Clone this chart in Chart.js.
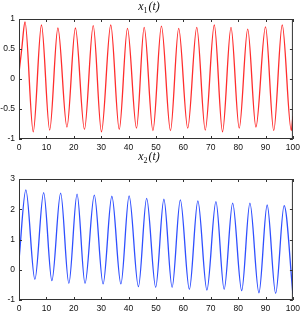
<!DOCTYPE html>
<html>
<head>
<meta charset="utf-8">
<script src="https://cdn.jsdelivr.net/npm/chart.js@4"></script>
<style>
  html, body { margin: 0; padding: 0; background: #fff; }
  .wrap { position: absolute; left: 0; width: 304px; }
  canvas { display: block; }
</style>
</head>
<body>
<div class="wrap" style="top:0"><canvas id="c1" width="304" height="152"></canvas></div>
<div class="wrap" style="top:152px"><canvas id="c2" width="304" height="160"></canvas></div>
<script>
// x1(t): peaks and troughs
const t1 = [0, 1.0, 2.2, 5.2, 8.2, 11.2, 14.2, 17.5, 20.6, 23.9, 27.1, 30.1, 33.5, 36.6, 39.6, 42.9,
  45.7, 48.9, 52.0, 55.3, 58.3, 61.6, 64.9, 68.0, 71.3, 74.3, 77.4, 80.4, 83.5, 86.5, 90.0, 93.0, 96.1, 99.4, 100];
const x1 = [0.1, 0.5, 0.95, -0.88, 0.9, -0.85, 0.85, -0.8, 0.85, -0.84, 0.89, -0.88, 0.9, -0.84, 0.845, -0.82,
  0.86, -0.86, 0.88, -0.86, 0.845, -0.82, 0.86, -0.85, 0.9, -0.88, 0.86, -0.82, 0.83, -0.8, 0.87, -0.86, 0.9, -0.86, -0.62];

// x2(t)
const t2 = [0, 2.5, 5.8, 9.0, 12.0, 15.2, 18.2, 21.2, 24.1, 27.5, 30.7, 33.9, 37.2, 40.2, 43.6, 46.6, 49.9,
  52.9, 55.9, 58.9, 62.2, 65.3, 68.6, 71.9, 74.9, 78.0, 81.3, 84.3, 87.6, 90.6, 93.7, 96.8, 100];
const x2 = [0.32, 2.64, -0.32, 2.55, -0.36, 2.53, -0.45, 2.5, -0.45, 2.47, -0.47, 2.43, -0.47, 2.44, -0.56, 2.36, -0.58,
  2.33, -0.58, 2.31, -0.65, 2.28, -0.67, 2.25, -0.65, 2.2, -0.69, 2.2, -0.76, 2.14, -0.78, 2.12, -0.8];

const xTicks = [0, 10, 20, 30, 40, 50, 60, 70, 80, 90, 100];

const tickFont = { family: '"Liberation Sans", Arial, sans-serif', size: 8.5 };

// frame, inward ticks on all four sides, and the title with a subscript
const framePlugin = {
  id: 'frame',
  afterDraw(chart, args, opts) {
    const ctx = chart.ctx;
    const a = chart.chartArea;
    const xs = chart.scales.x, ys = chart.scales.y;
    ctx.save();
    ctx.strokeStyle = '#333';
    ctx.lineWidth = 1;
    ctx.strokeRect(a.left + 0.5, a.top + 0.5, a.right - a.left - 1, a.bottom - a.top - 1);
    ctx.beginPath();
    xs.ticks.forEach(tk => {
      const px = Math.round(xs.getPixelForValue(tk.value)) + 0.5;
      ctx.moveTo(px, a.bottom); ctx.lineTo(px, a.bottom - 3);
      ctx.moveTo(px, a.top); ctx.lineTo(px, a.top + 3);
    });
    ys.ticks.forEach(tk => {
      const py = Math.round(ys.getPixelForValue(tk.value)) + 0.5;
      ctx.moveTo(a.left, py); ctx.lineTo(a.left + 3, py);
      ctx.moveTo(a.right, py); ctx.lineTo(a.right - 3, py);
    });
    ctx.stroke();

    // title: x_n(t)
    ctx.fillStyle = '#111';
    ctx.textBaseline = 'alphabetic';
    const big = 'italic 12px "Liberation Serif", "DejaVu Serif", serif';
    const small = '8px "Liberation Serif", "DejaVu Serif", serif';
    ctx.font = big;
    const w1 = ctx.measureText('x').width;
    const w3 = ctx.measureText('(t)').width;
    ctx.font = small;
    const w2 = ctx.measureText(opts.sub).width;
    let x = opts.cx - (w1 + w2 + w3 + 1) / 2;
    ctx.font = big;
    ctx.fillText('x', x, opts.base);
    x += w1;
    ctx.font = small;
    ctx.fillText(opts.sub, x, opts.base + 3);
    x += w2 + 1;
    ctx.font = big;
    ctx.fillText('(t)', x, opts.base);
    ctx.restore();
  }
};

function makeChart(id, t, v, color, yMin, yMax, yStep, pad, xHeight, sub, titleBase) {
  const pts = t.map((tt, i) => ({ x: tt, y: v[i] }));
  return new Chart(document.getElementById(id), {
    type: 'line',
    data: {
      datasets: [{
        data: pts,
        borderColor: color,
        borderWidth: 1.3,
        pointRadius: 0,
        fill: false,
        cubicInterpolationMode: 'monotone'
      }]
    },
    options: {
      responsive: false,
      animation: false,
      layout: { padding: pad },
      plugins: {
        legend: { display: false },
        tooltip: { enabled: false },
        frame: { sub: sub, cx: 149, base: titleBase }
      },
      scales: {
        x: {
          type: 'linear',
          min: 0, max: 100,
          afterBuildTicks: s => { s.ticks = xTicks.map(val => ({ value: val })); },
          afterFit: s => { s.height = xHeight; },
          grid: { display: false, drawTicks: false },
          border: { display: false },
          ticks: { font: tickFont, color: '#111', padding: 4, maxRotation: 0, autoSkip: false }
        },
        y: {
          min: yMin, max: yMax,
          afterFit: s => { s.width = 19; },
          grid: { display: false, drawTicks: false },
          border: { display: false },
          ticks: { font: tickFont, color: '#111', padding: 4, stepSize: yStep, callback: val => String(val) }
        }
      }
    },
    plugins: [framePlugin]
  });
}

makeChart('c1', t1, x1, '#ff2d2d', -1, 1, 0.5, { top: 19, right: 9, left: 0, bottom: 0 }, 13, '1', 10);
makeChart('c2', t2, x2, '#2f4fff', -1, 3, 1, { top: 27, right: 9, left: 0, bottom: 0 }, 12, '2', 8);
</script>
</body>
</html>
